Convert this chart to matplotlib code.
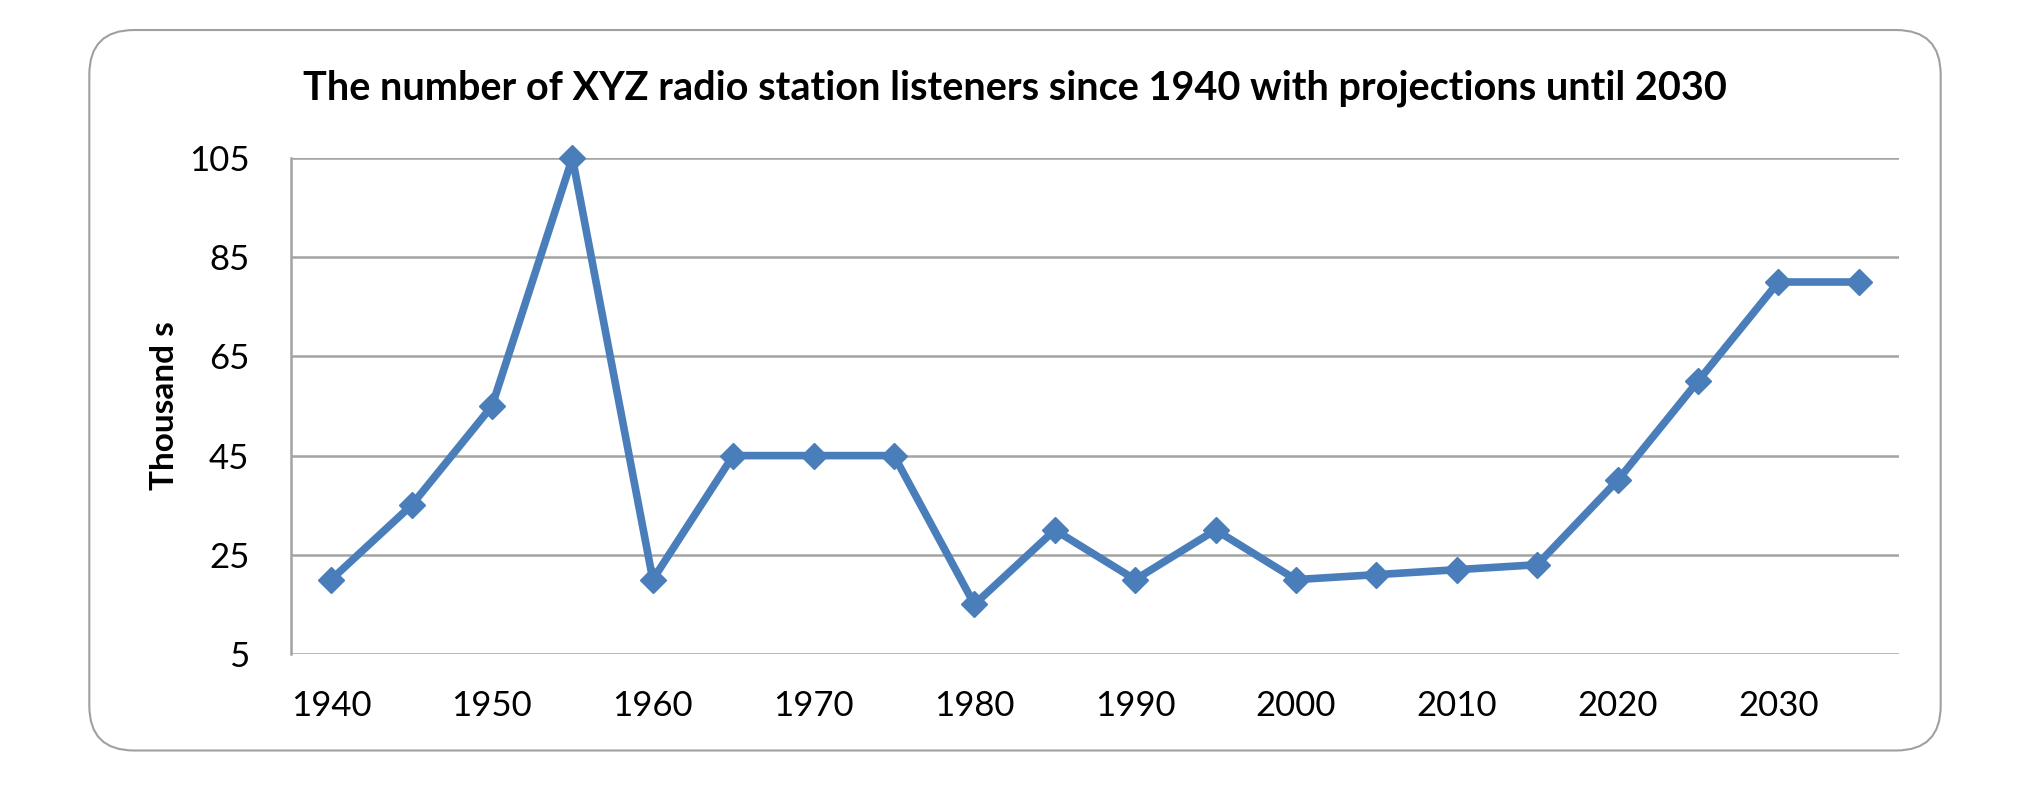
import matplotlib
matplotlib.use("Agg")
import matplotlib.pyplot as plt
from matplotlib.patches import FancyBboxPatch

plt.rcParams['font.family'] = ['Lato', 'DejaVu Sans']

# data
years = [1940, 1945, 1950, 1955, 1960, 1965, 1970, 1975, 1980, 1985,
         1990, 1995, 2000, 2005, 2010, 2015, 2020, 2025, 2030, 2035]
listeners = [20, 35, 55, 105, 20, 45, 45, 45, 15, 30,
             20, 30, 20, 21, 22, 23, 40, 60, 80, 80]
y_ticks = [5, 25, 45, 65, 85, 105]

blue = "#4a7ebb"
grid_grey = "#a3a3a3"

fig = plt.figure(figsize=(20.3, 7.9), dpi=100)

# rounded chart-area frame, kept behind the axes
frame = FancyBboxPatch((0.044, 0.05), 0.912, 0.912,
                       boxstyle="round,pad=0,rounding_size=0.022",
                       transform=fig.transFigure, facecolor="white",
                       edgecolor="#a0a0a0", linewidth=1.5,
                       mutation_aspect=2030 / 790, zorder=-5)
fig.patches.append(frame)

ax = fig.add_axes([291 / 2030, 1 - 654 / 790, (1899 - 291) / 2030, (654 - 158) / 790])
ax.set_facecolor("none")
ax.set_zorder(2)

x = list(range(len(years)))
ax.plot(x, listeners, color=blue, linewidth=5.5, marker="D", markersize=13,
        markerfacecolor=blue, markeredgecolor=blue, zorder=3, clip_on=False)

ax.set_xlim(-0.5, len(years) - 0.5)
ax.set_ylim(5, 105)
ax.set_yticks(y_ticks)
ax.set_yticklabels([str(v) for v in y_ticks], fontsize=25)
ax.set_xticks(x[::2])
ax.set_xticklabels([str(y) for y in years[::2]], fontsize=25)
ax.tick_params(axis="both", length=0)
ax.tick_params(axis="x", pad=26)
ax.tick_params(axis="y", pad=30)

ax.grid(axis="y", color=grid_grey, linewidth=1.8)
for side in ["top", "right", "bottom"]:
    ax.spines[side].set_visible(False)
ax.spines["left"].set_color(grid_grey)
ax.spines["left"].set_linewidth(1.8)
ax.set_axisbelow(True)

ax.set_ylabel("Thousand s", fontsize=24, fontweight="bold", labelpad=7)

fig.text(0.5, 1 - 88 / 790, "The number of XYZ radio station listeners since 1940 with projections until 2030",
         ha="center", va="center", fontsize=28.5, fontweight="bold")

fig.savefig("out.png", dpi=100)
